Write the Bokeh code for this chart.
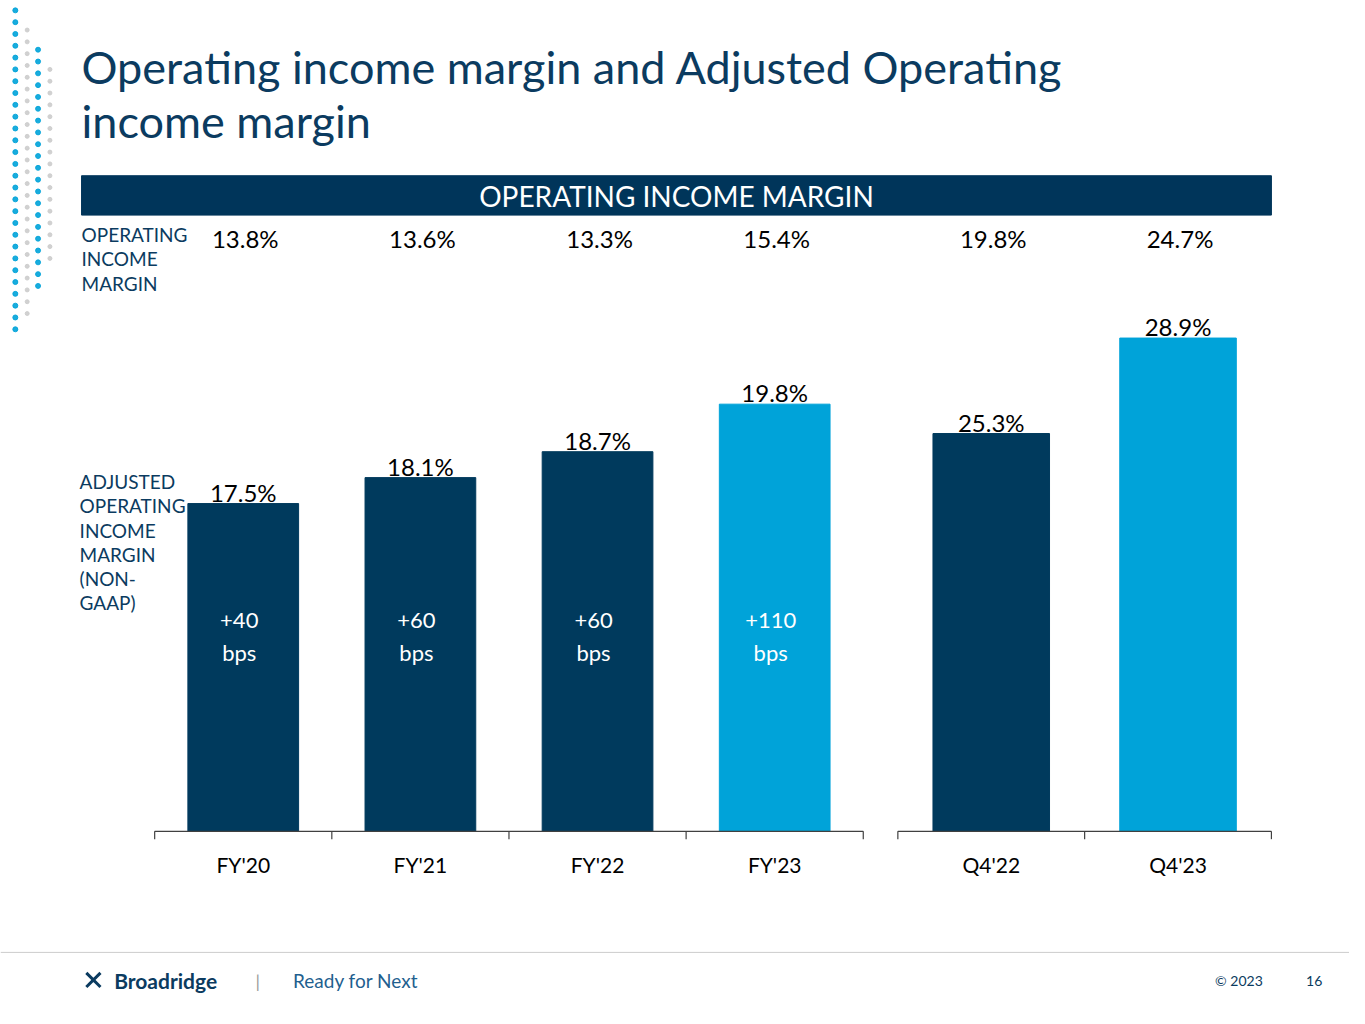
from bokeh.plotting import figure
from bokeh.models import Range1d, ColumnDataSource, Label
from bokeh.embed import file_html
from bokeh.resources import INLINE
from bokeh.core.properties import value

# ---- data ----
fy_cats = ["FY'20", "FY'21", "FY'22", "FY'23"]
fy_adj = [17.5, 18.1, 18.7, 19.8]
fy_op = ["13.8%", "13.6%", "13.3%", "15.4%"]
fy_bps = ["+40", "+60", "+60", "+110"]
q_cats = ["Q4'22", "Q4'23"]
q_adj = [25.3, 28.9]
q_op = ["19.8%", "24.7%"]

# axis base (value at the baseline) of each panel's scale
FY_BASE = 9.915
Q_BASE = 10.30

DARK = "#003A5D"
LIGHT = "#00A3D9"
TITLE = "#0B3B60"
FONT = value("Lato")

p = figure(width=1349, height=1008, output_backend="svg", toolbar_location=None,
           x_range=Range1d(0, 1365), y_range=Range1d(1024, 0),
           min_border=0, outline_line_color=None)
p.axis.visible = False
p.grid.visible = False
p.extra_x_ranges = {"fx": Range1d(-1.3703, 6.2448), "qx": Range1d(-5.3042, 1.918)}
p.extra_y_ranges = {"fy": Range1d(5.815, 29.141), "qy": Range1d(3.618, 41.629)}

def lab(x, y, t, size, color="black", align="left", style="normal", base="middle"):
    p.add_layout(Label(x=x, y=y, text=t, text_font="Lato", text_font_size=f"{size}px",
                       text_color=color, text_align=align, text_baseline=base,
                       text_font_style=style))

# decorative dots
for j, xx in enumerate([15, 27, 38, 50]):
    ys = list(range(10 + j * 20, 345 - j * 25, 12))
    p.scatter([xx] * len(ys), ys, size=4 if j % 2 else 5,
              color=LIGHT if j in (0, 2) else "#CCCCCC", alpha=0.9)

lab(82, 68, "Operating income margin and Adjusted Operating", 45, TITLE)
lab(82, 122, "income margin", 45, TITLE)

p.quad(left=82, right=1286, top=178, bottom=218, color="#00355A")
lab(684, 199, "OPERATING INCOME MARGIN", 28, "white", "center")

for i, t in enumerate(["OPERATING", "INCOME", "MARGIN"]):
    lab(82, 238 + 24.5 * i, t, 19, TITLE)
for i, t in enumerate(["ADJUSTED", "OPERATING", "INCOME", "MARGIN", "(NON-", "GAAP)"]):
    lab(80, 489 + 24.5 * i, t, 19, TITLE)

fx = list(range(len(fy_cats)))
qx = list(range(len(q_cats)))
fsrc = ColumnDataSource(dict(x=fx, top=fy_adj, cat=fy_cats, op=fy_op, bps=fy_bps,
                             lbl=[f"{v:.1f}%" for v in fy_adj],
                             col=[DARK, DARK, DARK, LIGHT]))
qsrc = ColumnDataSource(dict(x=qx, top=q_adj, cat=q_cats, op=q_op,
                             lbl=[f"{v:.1f}%" for v in q_adj], col=[DARK, LIGHT]))

p.vbar(x="x", top="top", bottom=FY_BASE, width=0.625, color="col", source=fsrc,
       x_range_name="fx", y_range_name="fy")
p.vbar(x="x", top="top", bottom=Q_BASE, width=0.624, color="col", source=qsrc,
       x_range_name="qx", y_range_name="qy")

for src, xr, yr in [(fsrc, "fx", "fy"), (qsrc, "qx", "qy")]:
    p.text(x="x", y="top", text="lbl", source=src, x_range_name=xr, y_range_name=yr,
           text_font=FONT, text_font_size="24px", text_align="center",
           text_baseline="bottom", y_offset=3)
    p.text(x="x", y=242, text="op", source=src, x_range_name=xr,
           text_font=FONT, text_font_size="24px", text_align="center",
           text_baseline="middle", x_offset=2)
    p.text(x="x", y=878, text="cat", source=src, x_range_name=xr,
           text_font=FONT, text_font_size="21px", text_align="center",
           text_baseline="middle")
p.text(x="x", y=630, text="bps", source=fsrc, x_range_name="fx", text_font=FONT,
       text_font_size="22px", text_align="center", text_baseline="middle",
       text_color="white", x_offset=-4)
p.text(x=fx, y=[662] * 4, text=["bps"] * 4, x_range_name="fx", text_font=FONT,
       text_font_size="22px", text_align="center", text_baseline="middle",
       text_color="white", x_offset=-4)

# axes baselines with ticks
for n, xr in [(len(fy_cats), "fx"), (len(q_cats), "qx")]:
    p.segment(x0=-0.5, x1=n - 0.5, y0=844, y1=844, x_range_name=xr,
              line_color="#404040", line_width=1.2)
    tk = [i - 0.5 for i in range(n + 1)]
    p.segment(x0=tk, x1=tk, y0=[844] * len(tk), y1=[852] * len(tk), x_range_name=xr,
              line_color="#404040", line_width=1.2)

# footer
p.segment(x0=0, x1=1365, y0=967, y1=967, line_color="#CCCCCC", line_width=1)
p.scatter([94], [995], marker="x", size=20, line_color=TITLE, line_width=3)
lab(115, 996, "Broadridge", 21, TITLE, style="bold")
lab(258, 996, "|", 18, "#999999")
lab(296, 996, "Ready for Next", 19, "#1F5F8F")
lab(1229, 996, "© 2023", 14, TITLE)
lab(1321, 996, "16", 14, TITLE)

open("out.html", "w").write(file_html(p, INLINE))
